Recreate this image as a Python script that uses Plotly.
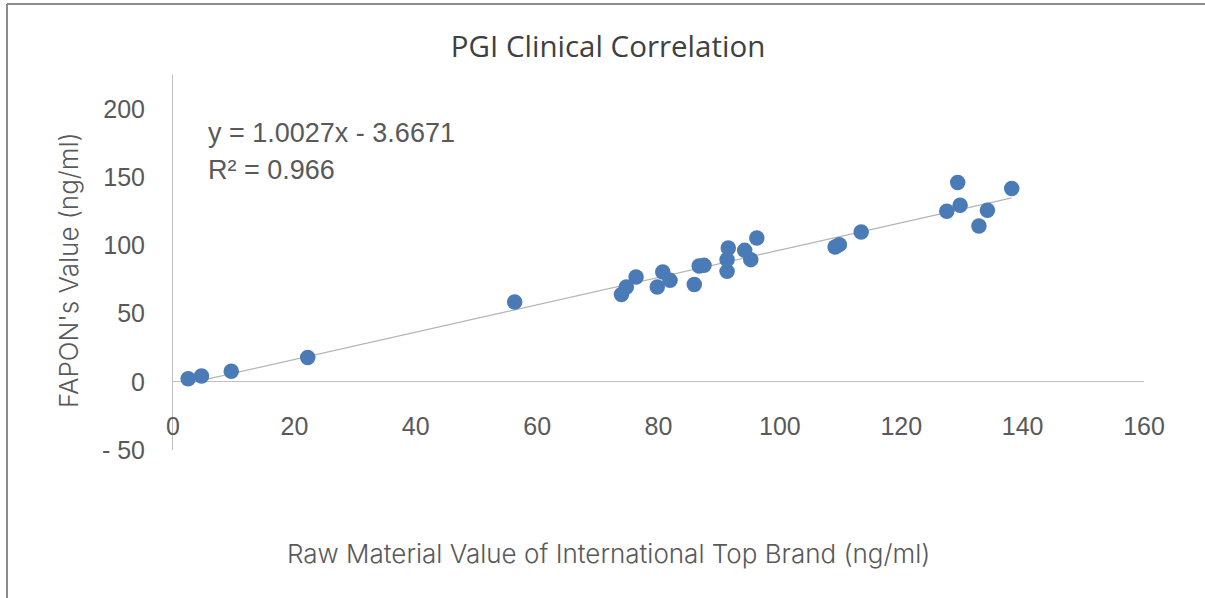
import plotly.graph_objects as go

# ---- data ----
raw_material = [2.5, 4.7, 9.6, 22.2, 56.3, 73.9, 74.7, 76.3, 79.8, 80.7, 81.9, 85.9,
                86.7, 87.5, 91.3, 91.3, 91.5, 94.2, 95.2, 96.2, 109.1, 109.8, 113.4,
                127.5, 129.3, 129.7, 132.8, 134.2, 138.2]
fapon_value = [2.3, 4.2, 7.8, 17.8, 58.5, 64.0, 69.5, 76.9, 69.5, 80.5, 74.4, 71.3,
               84.9, 85.4, 81.0, 89.6, 98.1, 96.4, 89.6, 105.5, 98.9, 100.6, 109.9,
               125.1, 146.1, 129.5, 114.3, 125.8, 141.7]
slope = 1.0027
intercept = -3.6671
r_squared = 0.966
x_ticks = [0, 20, 40, 60, 80, 100, 120, 140, 160]
y_ticks = [-50, 0, 50, 100, 150, 200]
y_tick_text = ["- 50", "0", "50", "100", "150", "200"]

GREY = "#595959"
AXIS = "#bfbfbf"
MARKER = "#4a7bb7"

fig = go.Figure()

# trendline over the data range
x_line = [min(raw_material), max(raw_material)]
y_line = [slope * v + intercept for v in x_line]
fig.add_trace(go.Scatter(x=x_line, y=y_line, mode="lines",
                         line=dict(color="#b4b4b4", width=1.2),
                         hoverinfo="skip", showlegend=False))

fig.add_trace(go.Scatter(x=raw_material, y=fapon_value, mode="markers",
                         marker=dict(color=MARKER, size=15.5, line=dict(width=0)),
                         showlegend=False))

fig.update_layout(
    width=1205, height=598,
    margin=dict(l=173, r=61, t=75, b=148),
    paper_bgcolor="white", plot_bgcolor="white",
    title=dict(text="PGI Clinical Correlation", xref="container", x=0.5046,
               xanchor="center", yref="container", y=1 - 47 / 598, yanchor="middle",
               font=dict(family="Open Sans", size=29.5, color="#404040")),
    xaxis=dict(range=[0, 160], tickvals=x_ticks, showgrid=False, zeroline=False,
               showline=False, anchor="free", position=0.11, ticks="",
               tickfont=dict(family="Liberation Sans", size=25, color=GREY)),
    yaxis=dict(range=[-50, 225], tickvals=y_ticks, ticktext=y_tick_text,
               showgrid=False, showline=True, linecolor=AXIS, linewidth=1,
               zeroline=True, zerolinecolor=AXIS, zerolinewidth=1, ticks="",
               ticklabelstandoff=22,
               tickfont=dict(family="Liberation Sans", size=25, color=GREY)),
    font=dict(family="Liberation Sans", color=GREY),
)

# trendline equation and R²
fig.add_annotation(x=5.5, y=182.4, xref="x", yref="y", xanchor="left", yanchor="middle",
                   text=f"y = {slope:.4f}x - {abs(intercept):.4f}", showarrow=False,
                   font=dict(family="Liberation Sans", size=27, color=GREY))
fig.add_annotation(x=5.5, y=155.3, xref="x", yref="y", xanchor="left", yanchor="middle",
                   text=f"R² = {r_squared}", showarrow=False,
                   font=dict(family="Liberation Sans", size=27, color=GREY))

# axis titles
fig.add_annotation(x=(608 - 173) / 971, y=(450 - 553) / 375, xref="paper", yref="paper",
                   xanchor="center", yanchor="middle", showarrow=False,
                   text="Raw Material Value of International Top Brand (ng/ml)",
                   font=dict(family="Inter", size=26, color=GREY, weight=300))
fig.add_annotation(x=(68 - 173) / 971, y=(450 - 270) / 375, xref="paper", yref="paper",
                   xanchor="center", yanchor="middle", showarrow=False, textangle=-90,
                   text="FAPON's Value (ng/ml)",
                   font=dict(family="Inter", size=26, color=GREY, weight=300))

# chart border (top and left)
fig.add_shape(type="line", xref="paper", yref="paper",
              x0=(7 - 173) / 971, x1=(1205 - 173) / 971,
              y0=(450 - 4) / 375, y1=(450 - 4) / 375,
              line=dict(color="#8c8c8c", width=2))
fig.add_shape(type="line", xref="paper", yref="paper",
              x0=(7 - 173) / 971, x1=(7 - 173) / 971,
              y0=(450 - 4) / 375, y1=(450 - 600) / 375,
              line=dict(color="#8c8c8c", width=2))

fig.write_html("out.html", config={"displayModeBar": False},
               post_script="document.body.style.margin='0px';")
